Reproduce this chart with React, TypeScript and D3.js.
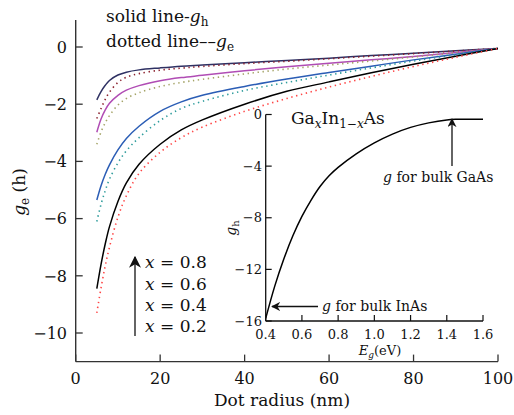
import React from "react";
import * as d3 from "d3";

// Main chart data (dot radius in nm)
const radius = [5, 6, 7, 8, 10, 12, 15, 20, 25, 30, 40, 50, 60, 70, 80, 90, 100];
const gh08 = [-1.85, -1.56, -1.34, -1.17, -0.98, -0.88, -0.8, -0.73, -0.67, -0.63, -0.55, -0.47, -0.39, -0.3, -0.22, -0.13, -0.05];
const ge08 = [-2.5, -2.15, -1.83, -1.58, -1.24, -1.06, -0.93, -0.81, -0.74, -0.68, -0.58, -0.5, -0.41, -0.32, -0.23, -0.14, -0.05];
const gh06 = [-2.98, -2.52, -2.2, -1.97, -1.69, -1.51, -1.35, -1.18, -1.07, -0.99, -0.83, -0.69, -0.57, -0.45, -0.33, -0.19, -0.05];
const ge06 = [-3.4, -2.97, -2.65, -2.4, -2.03, -1.8, -1.6, -1.38, -1.24, -1.13, -0.94, -0.77, -0.63, -0.49, -0.35, -0.2, -0.05];
const gh04 = [-5.35, -4.85, -4.45, -4.12, -3.6, -3.2, -2.77, -2.25, -1.92, -1.69, -1.38, -1.12, -0.89, -0.67, -0.45, -0.25, -0.05];
const ge04 = [-6.1, -5.5, -5.02, -4.62, -4.05, -3.63, -3.17, -2.57, -2.15, -1.9, -1.52, -1.24, -0.98, -0.73, -0.49, -0.27, -0.05];
const gh02 = [-8.45, -7.6, -6.88, -6.28, -5.4, -4.75, -4.1, -3.4, -2.9, -2.55, -2.0, -1.55, -1.22, -0.9, -0.6, -0.32, -0.05];
const ge02 = [-9.3, -8.42, -7.65, -7.0, -5.95, -5.2, -4.42, -3.68, -3.17, -2.8, -2.25, -1.8, -1.4, -1.03, -0.68, -0.36, -0.05];

const xTicks = [0, 20, 40, 60, 80, 100];
const yTicks = [0, -2, -4, -6, -8, -10];
const xLabels = ["0.8", "0.6", "0.4", "0.2"];

// Inset data: g_h vs band gap
const gap = [0.4, 0.45, 0.5, 0.55, 0.6, 0.65, 0.7, 0.75, 0.8, 0.9, 1.0, 1.1, 1.2, 1.3, 1.4, 1.45, 1.5, 1.6];
const gBulk = [-15.8, -13.3, -11.2, -9.4, -7.9, -6.65, -5.58, -4.75, -4.1, -3.05, -2.2, -1.52, -1.0, -0.65, -0.42, -0.37, -0.36, -0.37];
const insetXTicks = [0.4, 0.6, 0.8, 1.0, 1.2, 1.4, 1.6];
const insetYTicks = [0, -4, -8, -12, -16];

const series = [
  { v: gh08, color: "#2f3163", dotted: false },
  { v: ge08, color: "#8a1f2c", dotted: true },
  { v: gh06, color: "#b04cb4", dotted: false },
  { v: ge06, color: "#a5a468", dotted: true },
  { v: gh04, color: "#2b5db5", dotted: false },
  { v: ge04, color: "#2e9c9c", dotted: true },
  { v: gh02, color: "#000000", dotted: false },
  { v: ge02, color: "#ff4545", dotted: true },
];

const FONT = "'DejaVu Serif', serif";

export default function App() {
  const x = d3.scaleLinear().domain([0, 100]).range([75.7, 498]);
  const y = d3.scaleLinear().domain([-11, 1]).range([361.6, 18.4]);
  const xi = d3.scaleLinear().domain([0.4, 1.6]).range([265.7, 483]);
  const yi = d3.scaleLinear().domain([-16, 0]).range([321, 114.5]);

  const line = d3
    .line<[number, number]>()
    .x((d) => x(d[0]))
    .y((d) => y(d[1]))
    .curve(d3.curveCatmullRom.alpha(0.5));
  const insetLine = d3
    .line<[number, number]>()
    .x((d) => xi(d[0]))
    .y((d) => yi(d[1]))
    .curve(d3.curveCatmullRom.alpha(0.5));

  const axisColor = "#333";

  return (
    <svg width={514} height={415} style={{ position: "absolute", left: 0, top: 0, background: "#fff" }} fontFamily={FONT}>
      <defs>
        <marker id="ah" viewBox="0 0 10 10" refX="9" refY="5" markerWidth="9" markerHeight="9" markerUnits="userSpaceOnUse" orient="auto">
          <path d="M0,0 L10,5 L0,10 L3,5 Z" fill="#111" />
        </marker>
        <marker id="ah2" viewBox="0 0 10 10" refX="9" refY="5" markerWidth="12" markerHeight="12" markerUnits="userSpaceOnUse" orient="auto">
          <path d="M0,0 L10,5 L0,10 L3,5 Z" fill="#111" />
        </marker>
      </defs>

      {/* main series */}
      {series.map((s, i) => (
        <path
          key={i}
          d={line(radius.map((r, k) => [r, s.v[k]] as [number, number])) || ""}
          fill="none"
          stroke={s.color}
          strokeWidth={s.dotted ? 1.6 : 1.5}
          strokeDasharray={s.dotted ? "1.4 3.6" : undefined}
        />
      ))}

      {/* main axes */}
      <line x1={x(0)} x2={x(100)} y1={y(-11)} y2={y(-11)} stroke={axisColor} strokeWidth={1.4} />
      <line x1={x(0)} x2={x(0)} y1={y(-11)} y2={20} stroke={axisColor} strokeWidth={1.4} />
      {xTicks.map((t) => (
        <g key={"xt" + t}>
          <line x1={x(t)} x2={x(t)} y1={y(-11)} y2={y(-11) - 7} stroke={axisColor} strokeWidth={1.3} />
          <text x={x(t)} y={384} fontSize={16} textAnchor="middle" fill="#111">
            {t}
          </text>
        </g>
      ))}
      {yTicks.map((t) => (
        <g key={"yt" + t}>
          <line x1={x(0)} x2={x(0) + 7} y1={y(t)} y2={y(t)} stroke={axisColor} strokeWidth={1.3} />
          <text x={67} y={y(t)} dy="0.36em" fontSize={16} textAnchor="end" fill="#111">
            {t < 0 ? "−" + Math.abs(t) : t}
          </text>
        </g>
      ))}
      <text x={282} y={406} fontSize={17} textAnchor="middle" fill="#111">
        Dot radius (nm)
      </text>
      <text transform="translate(25,192) rotate(-90)" fontSize={17} textAnchor="middle" fill="#111">
        <tspan fontStyle="italic">g</tspan>
        <tspan fontSize={12} dy={4}>e</tspan>
        <tspan dy={-4}> (h)</tspan>
      </text>

      {/* legend text */}
      <text x={106} y={22} fontSize={17} fill="#111">
        solid line-<tspan fontStyle="italic">g</tspan>
        <tspan fontSize={12} dy={4}>h</tspan>
      </text>
      <text x={106} y={47} fontSize={17} fill="#111">
        dotted line––<tspan fontStyle="italic">g</tspan>
        <tspan fontSize={12} dy={4}>e</tspan>
      </text>

      {/* x arrow and labels */}
      <line x1={135} x2={135} y1={336} y2={257} stroke="#111" strokeWidth={1.3} markerEnd="url(#ah2)" />
      {xLabels.map((l, i) => (
        <text key={l} x={145} y={268.3 + i * 21.3} fontSize={17} fill="#111">
          <tspan fontStyle="italic">x</tspan> = {l}
        </text>
      ))}

      {/* inset */}
      <path d={insetLine(gap.map((g, k) => [g, gBulk[k]] as [number, number])) || ""} fill="none" stroke="#000" strokeWidth={1.5} />
      <line x1={xi(0.4)} x2={xi(1.6)} y1={yi(-16)} y2={yi(-16)} stroke="#111" strokeWidth={1.3} />
      <line x1={xi(0.4)} x2={xi(0.4)} y1={yi(-16)} y2={yi(0)} stroke="#111" strokeWidth={1.3} />
      {insetXTicks.map((t) => (
        <g key={"ixt" + t}>
          <line x1={xi(t)} x2={xi(t)} y1={yi(-16)} y2={yi(-16) - 6} stroke="#111" strokeWidth={1.2} />
          <text x={xi(t)} y={339} fontSize={13} textAnchor="middle" fill="#111">
            {t.toFixed(1)}
          </text>
        </g>
      ))}
      {insetYTicks.map((t) => (
        <g key={"iyt" + t}>
          <line x1={xi(0.4)} x2={xi(0.4) + 6} y1={yi(t)} y2={yi(t)} stroke="#111" strokeWidth={1.2} />
          <text x={262} y={yi(t)} dy="0.36em" fontSize={13} textAnchor="end" fill="#111">
            {t < 0 ? "−" + Math.abs(t) : t}
          </text>
        </g>
      ))}
      <text x={380} y={355} fontSize={13} textAnchor="middle" fill="#111">
        <tspan fontStyle="italic">E</tspan>
        <tspan fontSize={9} dy={3} fontStyle="italic">g</tspan>
        <tspan dy={-3}>(eV)</tspan>
      </text>
      <text transform="translate(236,228) rotate(-90)" fontSize={14} textAnchor="middle" fill="#111">
        <tspan fontStyle="italic">g</tspan>
        <tspan fontSize={10} dy={3}>h</tspan>
      </text>
      <text x={291} y={124} fontSize={17} fill="#111">
        Ga<tspan fontSize={12} dy={4} fontStyle="italic">x</tspan>
        <tspan dy={-4}>In</tspan>
        <tspan fontSize={12} dy={4}>1−</tspan>
        <tspan fontSize={12} fontStyle="italic">x</tspan>
        <tspan dy={-4}>As</tspan>
      </text>
      <line x1={452} x2={452} y1={166} y2={119} stroke="#111" strokeWidth={1.3} markerEnd="url(#ah)" />
      <text x={383} y={182} fontSize={14} fill="#111">
        <tspan fontStyle="italic">g</tspan> for bulk GaAs
      </text>
      <line x1={318} x2={272} y1={306.5} y2={306.5} stroke="#111" strokeWidth={1.3} markerEnd="url(#ah)" />
      <text x={322} y={311} fontSize={14} fill="#111">
        <tspan fontStyle="italic">g</tspan> for bulk InAs
      </text>
    </svg>
  );
}
